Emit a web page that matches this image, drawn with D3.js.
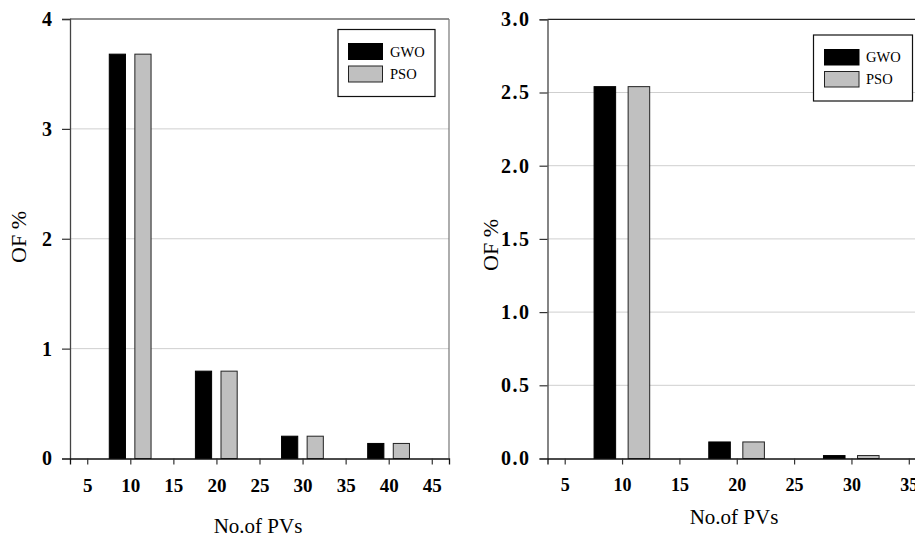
<!DOCTYPE html>
<html>
<head>
<meta charset="utf-8">
<script src="https://cdn.jsdelivr.net/npm/d3@7/dist/d3.min.js"></script>
<style>
  html, body { margin: 0; padding: 0; background: #fff; }
  svg { display: block; }
  svg text { font-family: "Liberation Serif", "Times New Roman", Times, serif !important; }
</style>
</head>
<body>
<svg id="chart" width="915" height="538" font-family="Liberation Serif, Times New Roman, serif"></svg>
<script>
// ---- Data ----
const seriesNames = ["GWO", "PSO"];

const pvsA = [10, 20, 30, 40];
const gwoA = [3.68, 0.795, 0.203, 0.137];
const psoA = [3.68, 0.795, 0.203, 0.137];
const xTicksA = [5, 10, 15, 20, 25, 30, 35, 40, 45];
const yTicksA = [0, 1, 2, 3, 4];

const pvsB = [10, 20, 30];
const gwoB = [2.54, 0.113, 0.02];
const psoB = [2.54, 0.113, 0.02];
const xTicksB = [5, 10, 15, 20, 25, 30, 35];
const yTicksB = [0, 0.5, 1.0, 1.5, 2.0, 2.5, 3.0];

const xLabel = "No.of PVs";
const yLabel = "OF %";

const FONT = "'Liberation Serif', 'Times New Roman', serif";
const svg = d3.select("#chart");

function drawPanel(cfg) {
  const g = svg.append("g");
  const x = d3.scaleLinear().domain(cfg.xDomain).range([cfg.left, cfg.right]);
  const y = d3.scaleLinear().domain(cfg.yDomain).range([cfg.bottom, cfg.top]);

  // gridlines
  g.append("g").selectAll("line")
    .data(cfg.yTicks.filter(t => t > cfg.yDomain[0] && t < cfg.yDomain[1]))
    .join("line")
    .attr("x1", cfg.left).attr("x2", cfg.right)
    .attr("y1", d => y(d)).attr("y2", d => y(d))
    .attr("stroke", "#cfcfcf").attr("stroke-width", 1);

  // frame top and right
  g.append("line").attr("x1", cfg.left).attr("x2", cfg.right)
    .attr("y1", cfg.top).attr("y2", cfg.top)
    .attr("stroke", "#222").attr("stroke-width", 1.2);
  g.append("line").attr("x1", cfg.right).attr("x2", cfg.right)
    .attr("y1", cfg.top).attr("y2", cfg.bottom)
    .attr("stroke", "#777").attr("stroke-width", 1.2);

  // bars
  const bw = x(cfg.xDomain[0] + 1.88) - x(cfg.xDomain[0]);
  const series = [
    { name: seriesNames[0], vals: cfg.gwo, off: -1.5, fill: "#000", stroke: "#000" },
    { name: seriesNames[1], vals: cfg.pso, off: 1.47, fill: "#c0c0c0", stroke: "#222" }
  ];
  series.forEach(s => {
    g.append("g").selectAll("rect")
      .data(cfg.pvs.map((p, i) => ({ p, v: s.vals[i] })))
      .join("rect")
      .attr("x", d => x(d.p + s.off) - bw / 2)
      .attr("width", bw)
      .attr("y", d => y(d.v))
      .attr("height", d => y(0) - y(d.v))
      .attr("fill", s.fill)
      .attr("stroke", s.stroke)
      .attr("stroke-width", 1);
  });

  // y axis
  const yAxis = g.append("g")
    .attr("transform", `translate(${cfg.left},0)`)
    .call(d3.axisLeft(y).tickValues(cfg.yTicks).tickSize(8).tickPadding(cfg.yPad)
      .tickFormat(cfg.yFormat));
  yAxis.attr("font-family", FONT);
  yAxis.select(".domain").attr("stroke", "#444").attr("stroke-width", 1.3);
  yAxis.selectAll(".tick line").attr("stroke", "#333").attr("stroke-width", 1.2);
  yAxis.selectAll(".tick text")
    .attr("font-size", cfg.yFont).attr("font-weight", "bold").attr("fill", "#000")
    .attr("letter-spacing", cfg.yLetter)
    .attr("font-family", FONT);

  // x axis
  const xAxis = g.append("g")
    .attr("transform", `translate(0,${cfg.bottom})`)
    .call(d3.axisBottom(x).tickValues(cfg.xTicks).tickSize(6).tickPadding(cfg.xPad)
      .tickFormat(d3.format("d")));
  xAxis.attr("font-family", FONT);
  xAxis.select(".domain").attr("stroke", "#111").attr("stroke-width", 1.3);
  xAxis.selectAll(".tick line").attr("stroke", "#333").attr("stroke-width", 1.2);
  xAxis.selectAll(".tick text")
    .attr("font-size", cfg.xFont).attr("font-weight", "bold").attr("fill", "#000")
    .attr("font-family", FONT);

  // axis titles
  g.append("text")
    .attr("x", cfg.xTitleX).attr("y", cfg.xTitleY)
    .attr("text-anchor", "middle")
    .attr("font-family", FONT)
    .attr("font-size", 21)
    .text(xLabel);
  g.append("text")
    .attr("transform", `translate(${cfg.yTitleX},${cfg.yTitleY}) rotate(-90)`)
    .attr("text-anchor", "middle")
    .attr("font-family", FONT)
    .attr("font-size", 22)
    .text(yLabel);

  // legend
  const L = cfg.legend;
  g.append("rect").attr("x", L.x).attr("y", L.y).attr("width", L.w).attr("height", L.h)
    .attr("fill", "#fff").attr("stroke", "#111").attr("stroke-width", 1.2);
  series.forEach((s, i) => {
    g.append("rect")
      .attr("x", L.sx).attr("y", L.sy[i]).attr("width", L.sw).attr("height", L.sh)
      .attr("fill", s.fill).attr("stroke", s.stroke).attr("stroke-width", 1);
    g.append("text")
      .attr("x", L.tx).attr("y", L.sy[i] + L.sh / 2 + 5)
      .attr("font-family", FONT)
      .attr("font-size", 14.5)
      .text(s.name);
  });
}

drawPanel({
  left: 70, right: 449, top: 19, bottom: 458.5,
  xDomain: [3, 47], yDomain: [0, 4],
  pvs: pvsA, gwo: gwoA, pso: psoA,
  xTicks: xTicksA, yTicks: yTicksA,
  yFormat: d3.format("d"), yFont: 20, xFont: 19, yPad: 10, xPad: 14, yLetter: 0,
  xTitleX: 258, xTitleY: 533,
  yTitleX: 26, yTitleY: 237,
  legend: { x: 338, y: 29.5, w: 97, h: 67, sx: 348.5, sw: 34, sh: 16, sy: [43.5, 66], tx: 390 }
});

drawPanel({
  left: 547.5, right: 926, top: 19.3, bottom: 458.5,
  xDomain: [3.5, 36.5], yDomain: [0, 3],
  pvs: pvsB, gwo: gwoB, pso: psoB,
  xTicks: xTicksB, yTicks: yTicksB,
  yFormat: d3.format(".1f"), yFont: 20, xFont: 18, yPad: 9, xPad: 14, yLetter: 1.5,
  xTitleX: 734, xTitleY: 524,
  yTitleX: 498, yTitleY: 245,
  legend: { x: 813.5, y: 35, w: 99, h: 66, sx: 824.5, sw: 34.5, sh: 15.5, sy: [49.5, 71.5], tx: 866 }
});
</script>
</body>
</html>
